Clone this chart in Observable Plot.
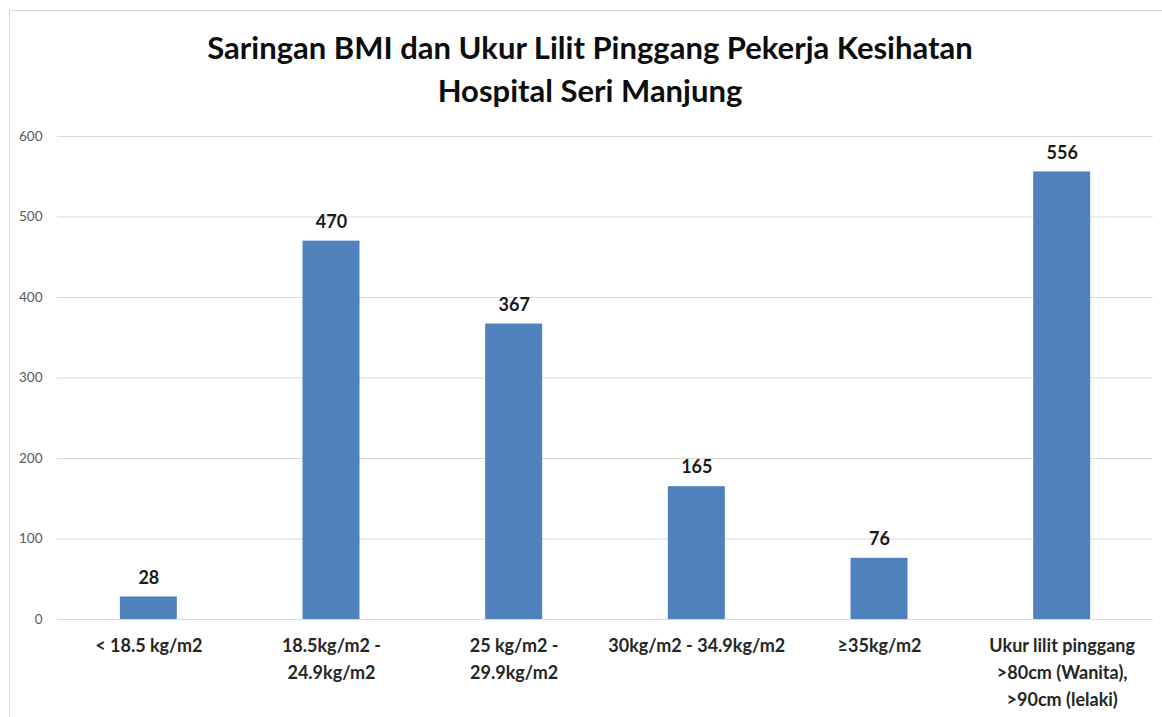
<!DOCTYPE html>
<html>
<head>
<meta charset="utf-8">
<script src="https://cdn.jsdelivr.net/npm/d3@7"></script>
<script src="https://cdn.jsdelivr.net/npm/@observablehq/plot@0.6"></script>
<style>
  html, body { margin: 0; padding: 0; background: #fff; width: 1162px; height: 717px; overflow: hidden; }
  #frame { position: absolute; left: 9px; top: 10px; width: 1200px; height: 800px; border: 1px solid #d9d9d9; box-sizing: border-box; }
  #title { position: absolute; left: 0; top: 26px; width: 1180px; text-align: center; font-family: Lato, sans-serif; font-weight: 700; font-size: 31px; line-height: 43px; color: #0d0d0d; }
  #chart { position: absolute; left: 0; top: 115px; }
  #chart svg { font-family: Lato, sans-serif; }
  .xax text { font-weight: 700; fill: #262626; }
</style>
</head>
<body>
<div id="frame"></div>
<div id="title">Saringan BMI dan Ukur Lilit Pinggang Pekerja Kesihatan<br>Hospital Seri Manjung</div>
<div id="chart"></div>
<script>
const categories = [
  "< 18.5 kg/m2",
  "18.5kg/m2 -\n24.9kg/m2",
  "25 kg/m2 -\n29.9kg/m2",
  "30kg/m2 - 34.9kg/m2",
  "≥35kg/m2",
  "Ukur lilit pinggang\n>80cm (Wanita),\n>90cm (lelaki)"
];
const values = [28, 470, 367, 165, 76, 556];
const yTicks = [0, 100, 200, 300, 400, 500, 600];

const data = categories.map((c, i) => ({category: c, value: values[i]}));

const plot = Plot.plot({
  width: 1162,
  height: 602,
  marginLeft: 57,
  marginRight: 9,
  marginTop: 21,
  marginBottom: 98,
  style: {fontFamily: "Lato, sans-serif", background: "transparent"},
  x: {domain: categories, paddingInner: 0.688, paddingOuter: 0.344, round: false},
  y: {domain: [0, 600], ticks: yTicks},
  marks: [
    Plot.gridY(yTicks, {stroke: "#d9d9d9", strokeOpacity: 1, strokeWidth: 1.2}),
    Plot.barY(data, {x: "category", y: "value", fill: "#4f81bd"}),
    Plot.text(data, {x: "category", y: "value", text: d => String(d.value), dy: -19, fontSize: 18, fontWeight: "bold", fill: "#1a1a1a"}),
    Plot.axisY(yTicks, {tickSize: 0, tickPadding: 15, fontSize: 13.5, fill: "#595959", label: null}),
    Plot.axisX({tickSize: 0, tickPadding: 13, fontSize: 18, lineHeight: 1.5, label: null, className: "xax", textAnchor: "middle"})
  ]
});
document.getElementById("chart").appendChild(plot);
</script>
</body>
</html>
